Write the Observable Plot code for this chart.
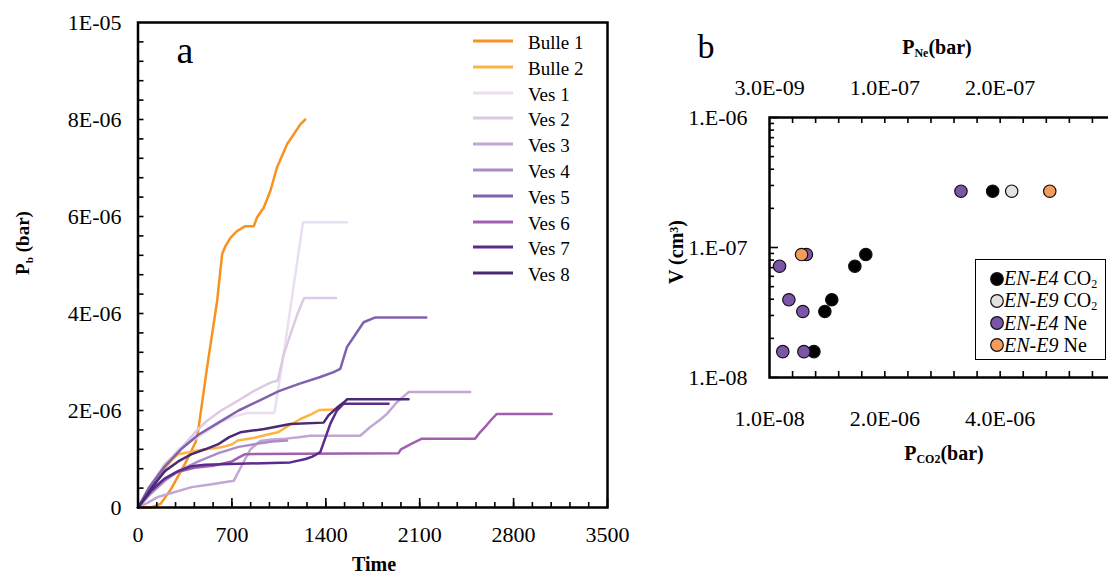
<!DOCTYPE html>
<html><head><meta charset="utf-8">
<script src="https://cdn.jsdelivr.net/npm/d3@7"></script>
<script src="https://cdn.jsdelivr.net/npm/@observablehq/plot@0.6"></script>
<style>
html,body{margin:0;padding:0;background:#fff;overflow:hidden;}
#root{position:relative;width:1108px;height:576px;overflow:hidden;font-family:"Liberation Serif","Times New Roman",serif;color:#000;}
.abs{position:absolute;white-space:nowrap;line-height:1;}
.c{transform:translate(-50%,-50%);}
.rot{transform:translate(-50%,-50%) rotate(-90deg);}
.b{font-weight:bold;}
sub{font-size:0.6em;vertical-align:-0.3em;}
.leg{position:absolute;white-space:nowrap;line-height:1;font-size:19px;transform:translateY(-50%);}
#root svg{position:absolute;top:0;}
</style></head>
<body><div id="root"></div>
<script>
// ---------- Panel a data: time vs P_b (values in 1E-06 bar) ----------
const seriesNames = ["Bulle 1","Bulle 2","Ves 1","Ves 2","Ves 3","Ves 4","Ves 5","Ves 6","Ves 7","Ves 8"];
const seriesColors = ["#f7931e","#fdb444","#e9dff0","#dccae5","#c3a6d4","#a98cc8","#8261ad","#a15fae","#5a2c8e","#4a2a72"];

const bulle1 = [[0,0],[100,0],[170,0.08],[250,0.4],[350,0.9],[430,1.35],[447,1.55],[480,2.2],[515,2.89],[590,4.26],[627,5.22],[652,5.39],[689,5.56],[738,5.70],[800,5.80],[863,5.80],[887,5.98],[937,6.18],[987,6.53],[1036,7.01],[1111,7.49],[1160,7.69],[1210,7.90],[1247,8.00]];
const bulle2 = [[0,0],[50,0.2],[124,0.49],[200,0.8],[248,0.97],[300,1.1],[434,1.17],[620,1.24],[700,1.3],[744,1.38],[868,1.44],[960,1.5],[1042,1.55],[1120,1.68],[1215,1.83],[1290,1.92],[1352,2.01],[1470,2.02]];
const ves1 = [[0,0],[80,0.35],[180,0.8],[300,1.2],[446,1.45],[530,1.6],[620,1.76],[720,1.88],[818,1.95],[1017,1.95],[1084,3.13],[1230,5.88],[1558,5.88]];
const ves2 = [[0,0],[80,0.4],[200,0.9],[300,1.15],[372,1.38],[450,1.62],[520,1.8],[620,2.0],[744,2.2],[868,2.41],[992,2.58],[1042,2.62],[1084,3.13],[1140,3.6],[1190,4.0],[1238,4.32],[1476,4.32]];
const ves3 = [[0,0],[60,0.08],[150,0.22],[250,0.3],[400,0.42],[550,0.48],[714,0.55],[770,0.85],[838,1.2],[912,1.37],[1000,1.4],[1100,1.42],[1200,1.45],[1284,1.48],[1657,1.48],[1731,1.66],[1800,1.8],[1856,1.93],[1930,2.17],[2017,2.38],[2476,2.38]];
const ves4 = [[0,0],[100,0.3],[200,0.55],[300,0.75],[450,0.95],[600,1.12],[750,1.25],[900,1.32],[1000,1.36],[1111,1.38]];
const ves5 = [[0,0],[80,0.4],[200,0.85],[320,1.2],[450,1.5],[600,1.75],[750,2.0],[900,2.2],[1050,2.4],[1200,2.55],[1359,2.69],[1458,2.79],[1508,2.86],[1558,3.31],[1607,3.51],[1682,3.82],[1769,3.92],[2149,3.92]];
const ves6 = [[0,0],[80,0.3],[180,0.55],[280,0.72],[420,0.82],[560,0.86],[700,0.95],[763,1.05],[800,1.1],[1942,1.12],[1960,1.2],[2030,1.3],[2116,1.42],[2513,1.42],[2550,1.55],[2600,1.7],[2640,1.83],[2675,1.93],[3084,1.93]];
const ves7 = [[0,0],[100,0.35],[200,0.6],[300,0.75],[397,0.85],[500,0.88],[744,0.9],[1136,0.93],[1250,1.0],[1300,1.05],[1359,1.14],[1434,1.73],[1483,2.0],[1533,2.14],[1868,2.14]];
const ves8 = [[0,0],[100,0.4],[200,0.75],[300,0.95],[400,1.1],[500,1.2],[595,1.3],[680,1.45],[763,1.55],[942,1.62],[1136,1.72],[1384,1.75],[1420,1.9],[1480,2.05],[1540,2.18],[1558,2.23],[2017,2.23]];
const seriesData = [bulle1,bulle2,ves1,ves2,ves3,ves4,ves5,ves6,ves7,ves8];

const timeTicks = [0,700,1400,2100,2800,3500];
const pTicks = [0,2e-6,4e-6,6e-6,8e-6,1e-5];
const pTickLabels = ["0","2E-06","4E-06","6E-06","8E-06","1E-05"];

// ---------- Panel b data: [P (bar), V (cm3)] ----------
const enE4CO2 = [[3.88e-6,2.71e-7],[1.68e-6,8.83e-8],[1.49e-6,7.18e-8],[1.09e-6,3.96e-8],[0.97e-6,3.22e-8],[0.78e-6,1.58e-8]];
const enE9CO2 = [[4.21e-6,2.71e-7]];
const enE4Ne  = [[1.69e-7,2.71e-7],[3.5e-8,8.83e-8],[1.17e-8,7.18e-8],[1.98e-8,3.96e-8],[3.19e-8,3.22e-8],[1.45e-8,1.58e-8],[3.28e-8,1.58e-8]];
const enE9Ne  = [[2.46e-7,2.71e-7],[3.08e-8,8.83e-8]];
const co2AxisMin = 1e-8, co2AxisStep = 2e-6;   // bottom axis (P_CO2)
const neAxisMin = 3e-9, neAxisStep = 1e-7;     // top axis (P_Ne)
const co2TickLabels = ["1.0E-08","2.0E-06","4.0E-06"];
const neTickLabels = ["3.0E-09","1.0E-07","2.0E-07"];
const vTicks = [1e-8,1e-7,1e-6];
const vTickLabels = ["1.E-08","1.E-07","1.E-06"];
const legendB = [
  {label:"EN-E4", gas:"CO", sub:"2", fill:"#000000"},
  {label:"EN-E9", gas:"CO", sub:"2", fill:"#e2e2e2"},
  {label:"EN-E4", gas:"Ne", sub:"", fill:"#7d55a8"},
  {label:"EN-E9", gas:"Ne", sub:"", fill:"#f59c5c"}
];

const root = document.getElementById("root");
const FONT = "Liberation Serif, Times New Roman, serif";

// ---------- Panel a ----------
const A = {w: 640, h: 576, ml: 137.5, mr: 33, mt: 22, mb: 69};
const aPlotW = A.w - A.ml - A.mr, aPlotH = A.h - A.mt - A.mb;
const rows = seriesData.flatMap((pts, i) => pts.map(([t, p]) => ({series: seriesNames[i], t, p: p * 1e-6})));
const timeMinor = d3.range(0, 3500, 140);
const pMinor = d3.range(1, 25).map(k => k * 4e-7);
const pLabel = new Map(pTicks.map((v, i) => [v, pTickLabels[i]]));

const plotA = Plot.plot({
  width: A.w, height: A.h,
  marginLeft: A.ml, marginRight: A.mr, marginTop: A.mt, marginBottom: A.mb,
  style: {fontFamily: FONT, fontSize: "22px", background: "transparent", color: "#000", overflow: "visible"},
  x: {domain: [0, 3500]},
  y: {domain: [0, 1e-5]},
  color: {domain: seriesNames, range: seriesColors},
  marks: [
    Plot.line(rows, {x: "t", y: "p", z: "series", stroke: "series", strokeWidth: 2.5, strokeLinejoin: "miter"}),
    Plot.tickX(timeMinor, {x: d => d, insetTop: aPlotH - 5, stroke: "#000", strokeWidth: 1.6}),
    Plot.tickX(timeTicks, {x: d => d, insetTop: aPlotH - 9, stroke: "#000", strokeWidth: 1.6}),
    Plot.tickY(pMinor, {y: d => d, insetRight: aPlotW - 6, stroke: "#000", strokeWidth: 1.6}),
    Plot.axisX(timeTicks, {anchor: "bottom", tickSize: 0, tickPadding: 19, tickFormat: d => String(d), label: null}),
    Plot.axisY(pTicks, {anchor: "left", tickSize: 0, tickPadding: 16.5, tickFormat: d => pLabel.get(d), label: null}),
    Plot.frame({stroke: "#000", strokeWidth: 2.5})
  ]
});
plotA.style.left = "0px";
root.appendChild(plotA);

// ---------- Panel b ----------
const B = {w: 486, h: 576, ml: 129, mr: 11, mt: 117, mb: 199};
const bPlotW = B.w - B.ml - B.mr, bPlotH = B.h - B.mt - B.mb;
const neToX = ne => co2AxisMin + (ne - neAxisMin) * (co2AxisStep / neAxisStep);
const majorX = [0, 1, 2].map(k => co2AxisMin + k * co2AxisStep);
const minorX = d3.range(1, 15).map(k => co2AxisMin + k * co2AxisStep / 5);
const minorV = [-8, -7].flatMap(e => d3.range(2, 10).map(m => m * Math.pow(10, e)));
const co2Label = new Map(majorX.map((v, i) => [v, co2TickLabels[i]]));
const neLabel = new Map(majorX.map((v, i) => [v, neTickLabels[i]]));
const vLabel = new Map(vTicks.map((v, i) => [v, vTickLabels[i]]));

const dotOpts = {r: 6.2, stroke: "#111", strokeWidth: 1.2};
const plotB = Plot.plot({
  width: B.w, height: B.h,
  marginLeft: B.ml, marginRight: B.mr, marginTop: B.mt, marginBottom: B.mb,
  style: {fontFamily: FONT, fontSize: "22px", background: "transparent", color: "#000", overflow: "visible"},
  x: {domain: [co2AxisMin, co2AxisMin + 3 * co2AxisStep]},
  y: {type: "log", domain: [1e-8, 1e-6]},
  marks: [
    Plot.tickX(minorX, {x: d => d, insetTop: bPlotH - 6, stroke: "#000", strokeWidth: 1.6}),
    Plot.tickX(minorX, {x: d => d, insetBottom: bPlotH - 6, stroke: "#000", strokeWidth: 1.6}),
    Plot.tickY(minorV, {y: d => d, insetRight: bPlotW - 5, stroke: "#000", strokeWidth: 1.6}),
    Plot.tickY(vTicks, {y: d => d, insetRight: bPlotW - 9, stroke: "#000", strokeWidth: 1.6}),
    Plot.axisX(majorX, {anchor: "bottom", tickSize: 0, tickPadding: 33, tickFormat: d => co2Label.get(d), label: null}),
    Plot.axisX(majorX, {anchor: "top", tickSize: 0, tickPadding: 22.5, tickFormat: d => neLabel.get(d), label: null}),
    Plot.axisY(vTicks, {anchor: "left", tickSize: 0, tickPadding: 22, tickFormat: d => vLabel.get(d), label: null}),
    Plot.dot(enE4CO2, {x: d => d[0], y: d => d[1], fill: "#000000", ...dotOpts}),
    Plot.dot(enE9CO2, {x: d => d[0], y: d => d[1], fill: "#e2e2e2", ...dotOpts}),
    Plot.dot(enE4Ne, {x: d => neToX(d[0]), y: d => d[1], fill: "#7d55a8", ...dotOpts}),
    Plot.dot(enE9Ne, {x: d => neToX(d[0]), y: d => d[1], fill: "#f59c5c", ...dotOpts}),
    Plot.frame({stroke: "#000", strokeWidth: 2.5})
  ]
});
plotB.style.left = "640px";
root.appendChild(plotB);

// ---------- Text overlays ----------
function addText(html, x, y, cls, size) {
  const d = document.createElement("div");
  d.className = "abs " + cls;
  d.style.left = x + "px"; d.style.top = y + "px"; d.style.fontSize = size + "px";
  d.innerHTML = html;
  root.appendChild(d);
  return d;
}
addText("a", 185, 50, "c", 38);
addText("b", 706, 47, "c", 34);
addText("Time", 374, 564, "c b", 20);
addText("P<sub>b</sub> (bar)", 24, 243, "rot b", 19);
addText("P<sub>Ne</sub>(bar)", 937, 48, "c b", 20);
addText("P<sub>CO2</sub>(bar)", 944, 454, "c b", 20);
addText("V (cm<sup style='font-size:0.6em;vertical-align:0.45em'>3</sup>)", 676, 252, "rot b", 20);

// Panel a legend
seriesNames.forEach((name, i) => {
  const y = 41 + 25.8 * i;
  const s = document.createElementNS("http://www.w3.org/2000/svg", "svg");
  s.setAttribute("width", 44); s.setAttribute("height", 6);
  s.style.cssText = `position:absolute;left:471px;top:${y - 3}px;`;
  s.innerHTML = `<line x1="2" x2="42" y1="3" y2="3" stroke="${seriesColors[i]}" stroke-width="2.8"/>`;
  root.appendChild(s);
  const t = document.createElement("div");
  t.className = "leg";
  t.style.left = "528px"; t.style.top = (y + 1) + "px";
  t.textContent = name;
  root.appendChild(t);
});

// Panel b legend
const box = document.createElement("div");
box.style.cssText = "position:absolute;left:975px;top:259px;width:129px;height:99px;border:1.6px solid #000;background:#fff;";
root.appendChild(box);
legendB.forEach((e, i) => {
  const y = 278.5 + 22 * i;
  const s = document.createElementNS("http://www.w3.org/2000/svg", "svg");
  s.setAttribute("width", 16); s.setAttribute("height", 16);
  s.style.cssText = `position:absolute;left:${996.7 - 8}px;top:${y - 8}px;`;
  s.innerHTML = `<circle cx="8" cy="8" r="6.3" fill="${e.fill}" stroke="#111" stroke-width="1.2"/>`;
  root.appendChild(s);
  const t = document.createElement("div");
  t.className = "leg";
  t.style.left = "1004px"; t.style.top = y + "px"; t.style.fontSize = "20px";
  t.innerHTML = `<i>${e.label}</i> ${e.gas}${e.sub ? "<sub>" + e.sub + "</sub>" : ""}`;
  root.appendChild(t);
});
</script>
</body></html>
